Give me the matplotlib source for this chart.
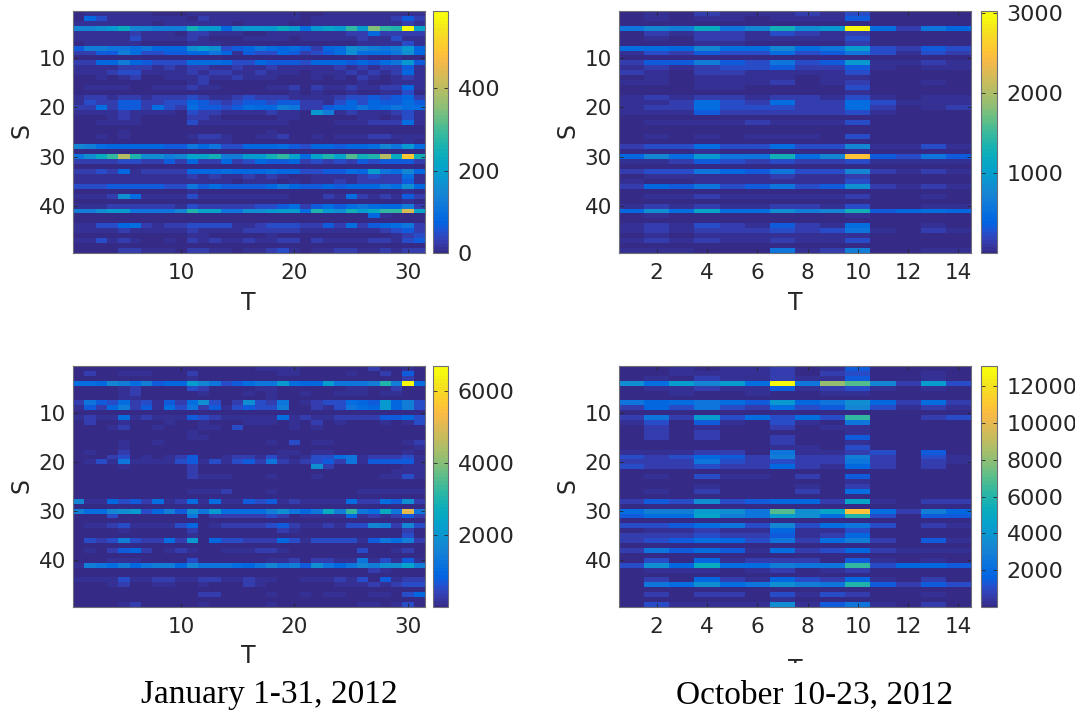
import matplotlib
matplotlib.use("Agg")
import numpy as np
import matplotlib.pyplot as plt
from matplotlib.colors import LinearSegmentedColormap
from matplotlib.patches import Rectangle

W, H = 1081, 715
PARULA = [(.2081,.1663,.5292),(.2123,.2138,.6270),(.1959,.2645,.7279),(.1253,.3242,.8303),
 (.0117,.3875,.8820),(.0165,.4266,.8786),(.0498,.4586,.8641),(.0723,.4887,.8467),(.0793,.5200,.8312),
 (.0641,.5570,.8240),(.0343,.5966,.8199),(.0239,.6287,.8038),(.0228,.6535,.7768),(.0384,.6743,.7436),
 (.0843,.6928,.7062),(.1453,.7098,.6646),(.2178,.7250,.6193),(.3022,.7376,.5712),(.3953,.7459,.5244),
 (.4871,.7491,.4840),(.5709,.7485,.4494),(.6473,.7456,.4188),(.7184,.7411,.3905),(.7858,.7356,.3633),
 (.8507,.7299,.3360),(.9139,.7258,.3063),(.9739,.7314,.2666),(.9990,.7653,.2164),(.9880,.8066,.1794),
 (.9697,.8481,.1475),(.9589,.8949,.1132),(.9661,.9514,.0755),(.9763,.9831,.0538)]
cmap = LinearSegmentedColormap.from_list("parula", PARULA, N=64)

# Cell values: one base-36 digit per cell, 0..z = vmin..vmax
Z31 = "0000000000 0000000000 00000000000"
Z14 = "00000000000000"

jan_small_rows = [
"0111111000 1111111111 00111111111",
"0531111111 0211111111 01111111242",
"1111111011 1111011110 01111111121",
"99abe99888 fcc5abbbec 6bdchclhgzd",
"1111121110 2211100111 11112252222",
"1111131111 2100011110 11111211311",
"0111110000 1110000000 00000111131",
"4887767555 aca3457656 4256a98 78b5",
"2244863344 5575143354 2346a6667a5",
"0000000000 0000000000 00000100100",
"2255854333 6665335444 35554546 7b4",
"1111222121 2211211211 11121212241",
"1112331111 2122112111 01112121251",
"0010120011 1211211100 01010210121",
"0000000000 1200000000 00000100111",
"0111100111 2110000112 02112112251",
"0000000000 0000000001 01001001130",
"1221221222 3211232221 11123343452",
"1322442233 5432344344 22135354464",
"2262442632 6443465587 22455756766",
"1111211110 3221111211 0b812111231",
"0001210000 2210000011 00000110131",
"0011110000 3111111110 00011122261",
Z31,
"0000100000 0000000100 00000000000",
"0010100000 1221001120 01011122111",
"0000000000 0111000000 00000000010",
"9865555544 7573355564 35545569 7b6",
Z31,
"7aehogaa89 ddf88ccfhd 6dgdjfgoeuf",
"2222332242 5225235445 23232434442",
Z31,
"2232512222 5556555655 334465c7695",
"1111111111 2121121210 01111232261",
"1111111111 1111011101 01121222241",
"3334444433 7464444575 4454555 76a5",
"0000000000 1000000000 00000000010",
"1112a61111 3111111110 00216212142",
"0000000000 0000000000 00000000010",
"1112222221 3222223346 24646765582",
"88abc77779 gdd77aabcc 6gbafcehhqd",
"0000000000 0000000000 00000051000",
Z31,
"1133562122 3333112333 22426245672",
"1111211111 2111122222 11111112342",
"0000000000 1100000100 00000000123",
"1131210010 2121121122 02111122134",
Z31,
"0000221110 2211011231 01122112122",
]

oct_small_rows = [
"01021112130000","01011011140000",Z14,"798e79fabz6275","02122132120000",
"01022111130000","00011000020000","6659669 67c3243","13243363473132",Z14,
"24484373 4b1121","12123342241011","21022111130000","01011110110000","11011120120010",
"00011000030000","00000000010000","12122122131011","11263262263111","12263332262012",
"11142222231000",Z14,"01111211130000",Z14,Z14,
"01010111030000",Z14,"23363363391131","00010000010000","596b77f69t4374",
"11243232231111",Z14,"23375473392121","01111121120000","10011111130000",
"25473473 4a2121",Z14,"01121111120010",Z14,"12121122130011",
"5a6d66a89f4565","01000000010000",Z14,"12132142160010","12122232371021",
"01011111110000","12121121130000",Z14,"11100071280011",
]

jan_big_rows = [
"0000000000 0000001111 00000020010",
"0200111000 2000000011 00001002040",
"0000000000 1000000000 00000000020",
"6659868455 c973467 7b6 55c7778g8z6",
"0000120000 3200001100 00001100200",
"0000120000 0100010100 10011101100",
"0000110000 0000000100 00000000000",
"2743623142 6a302a3270 1233654b583",
"1425824163 7241343380 0213765b583",
Z31,
"1211612111 4321111161 21122224453",
"0200100010 0100011101 02010001013",
"0001200100 0110300001 01000000000",
"0000000000 1000000000 00000000000",
"0000000000 1100000000 00000000000",
"0000100100 0000000103 01100000012",
"0000100000 0000000000 00000000001",
"0100200000 0000000011 01100000010",
"0002301012 4001221310 13367122231",
"0131711113 4131342721 23427144441",
"0000100000 2000000000 0a200000011",
"0000000000 2000000000 00000000111",
"0000000000 2111000100 01000001131",
Z31,
Z31,
"0000000000 1112000100 00000111111",
Z31,
"9115342612 6161143412 11116226 4a2",
Z31,
"8669ab3584 a7b6666 8a7 57e8h76e7r7",
"0003000000 7022222320 11115121242",
Z31,
"0112311113 5012222342 11213398 293",
"0000100000 2000000021 00000000020",
"0000000000 1000000000 00000000030",
"0323832262 b053322253 13333147682",
Z31,
"0102452012 1001112210 00000300120",
Z31,
"0001110000 3000000112 02211713141",
"1876857885 9777657978 4a75798aad8",
"0000000000 0000000000 00000021000",
Z31,
"1111311221 1221121100 11121304122",
"0001200110 0100021000 00011121233",
Z31,
"0000000000 0220000100 10110011035",
Z31,
"0000120000 0100000100 00000110130",
]

oct_big_rows = [
"00101120140000","00111120230010","01021121140010","a6c9c6z7mj92c3","01121141231010",
"00100100110000",Z14,"75676 4b57a5262","25373263493121",Z14,
"272c36363h0023","13041031070000","02010020110000","02020000010000","02020020040000",
"00000020010000","00000011030000","11122071123040","32354282282031","22273232272021",
"32232252152020",Z14,"01031102040000","00000000010000","00010001020000",
"01020002060000",Z14,"243a34552d1022",Z14,"688ca7jadt6285",
"466d87ca6g3044",Z14,"33467393673021","01121151130000","22232241250000",
"23465372682041",Z14,"27464162352111",Z14,"03051222041010",
"3a5e66877h3554","01110120120000",Z14,"02052153251020","076a67a87g4243",
Z14,"02022031320010","00000010000000","031111a1471020",
]

jan_small_ticks = [0, 200, 400]
oct_small_ticks = [1000, 2000, 3000]
jan_big_ticks = [2000, 4000, 6000]
oct_big_ticks = [2000, 4000, 6000, 8000, 10000, 12000]
jan_x_ticks = [10, 20, 30]
oct_x_ticks = [2, 4, 6, 8, 10, 12, 14]
s_ticks = [10, 20, 30, 40]
captions = ["January 1-31, 2012", "October 10-23, 2012"]


def decode(rows, ncol, vmin, vmax):
    out = []
    for r in rows:
        r = r.replace(" ", "")
        r = (r + "0" * ncol)[:ncol]
        out.append([int(c, 36) for c in r])
    out = (out + [[0] * ncol] * 49)[:49]
    return vmin + np.array(out, float) / 35 * (vmax - vmin)


fig = plt.figure(figsize=(W / 100, H / 100), dpi=100, facecolor="white")
GR = "#262626"


def panel(x0, y0, x1, y1, cx0, cx1, mat, vmin, vmax, xt, ct, tlab, slab):
    ax = fig.add_axes([x0 / W, 1 - y1 / H, (x1 - x0) / W, (y1 - y0) / H])
    n = mat.shape[1]
    im = ax.imshow(mat, cmap=cmap, vmin=vmin, vmax=vmax, aspect="auto", interpolation="nearest",
                   extent=[0.5, n + 0.5, 49.5, 0.5])
    ax.set_xticks(xt)
    ax.set_yticks(s_ticks)
    ax.tick_params(direction="in", length=3, width=0.6, color=GR, labelcolor=GR, labelsize=15.5,
                   top=True, right=True, pad=7)
    ax.tick_params(axis="y", pad=5)
    for s in ax.spines.values():
        s.set_linewidth(0.8)
        s.set_color("#6e6e78")
    ax.set_xlabel("T", fontsize=17, color=GR)
    ax.set_ylabel("S", fontsize=17, color=GR)
    ax.xaxis.set_label_coords((tlab[0] - x0) / (x1 - x0), 1 - (tlab[1] - y0) / (y1 - y0))
    ax.yaxis.set_label_coords((slab[0] - x0) / (x1 - x0), 1 - (slab[1] - y0) / (y1 - y0))
    ax.xaxis.label.set_va("center")
    ax.yaxis.label.set_va("center")
    cax = fig.add_axes([cx0 / W, 1 - y1 / H, (cx1 - cx0) / W, (y1 - y0) / H])
    cb = fig.colorbar(im, cax=cax)
    cb.set_ticks(ct)
    cb.solids.set_edgecolor("face")
    cax.tick_params(direction="in", length=3, width=0.6, color=GR, labelcolor=GR, labelsize=16,
                    left=True, right=True, pad=7)
    cb.outline.set_linewidth(0.8)
    cb.outline.set_edgecolor("#6e6e78")


panel(73, 11, 425, 253, 433, 448, decode(jan_small_rows, 31, 0, 587), 0, 587, jan_x_ticks, jan_small_ticks, (248, 303), (22, 131))
panel(619, 11, 971, 253, 981, 997, decode(oct_small_rows, 14, 10, 3020), 10, 3020, oct_x_ticks, oct_small_ticks, (795, 303), (567, 131))
panel(73, 366, 425, 607, 433, 448, decode(jan_big_rows, 31, 0, 6700), 0, 6700, jan_x_ticks, jan_big_ticks, (248, 656), (22, 485))
panel(619, 366, 971, 607, 981, 997, decode(oct_big_rows, 14, 5, 13100), 5, 13100, oct_x_ticks, oct_big_ticks, (795, 670), (567, 485))

# The source picture cuts these regions off
for (x, y, w, h) in [(540, 663, 541, 52), (1075, 0, 6, 715)]:
    fig.add_artist(Rectangle((x / W, 1 - (y + h) / H), w / W, h / H, transform=fig.transFigure,
                             facecolor="white", edgecolor="none", zorder=10))

for cx, txt in zip((269, 815), captions):
    fig.text(cx / W, 1 - 695 / H, txt, ha="center", va="center", fontsize=24,
             family="Liberation Serif", color="black", zorder=11)

fig.savefig("out.png", dpi=100)
